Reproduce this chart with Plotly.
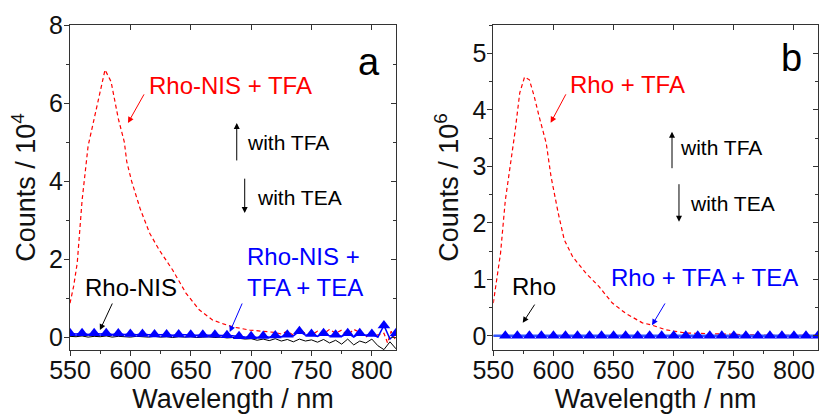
import plotly.graph_objects as go

# ---------------- data ----------------
# Panel a (Rho-NIS), counts / 10^4
a_red_wl = [550, 553, 556, 560, 565, 572, 579, 584, 590, 595, 597, 601, 608, 616, 624, 635, 646,
            657, 668, 677, 685, 699, 713, 720, 725, 730, 735, 740, 745, 750, 755, 760, 765, 770,
            775, 780, 785, 790, 795, 800, 805, 810, 813, 816, 820]
a_red = [0.87, 1.3, 1.9, 3.5, 4.9, 5.9, 6.85, 6.55, 5.6, 5.0, 4.5, 4.0, 3.3, 2.66, 2.23, 1.72, 1.13,
         0.7, 0.44, 0.34, 0.26, 0.18, 0.13, 0.12, 0.08, 0.15, 0.05, 0.18, 0.1, 0.06, 0.15, 0.08, 0.2,
         0.1, 0.18, 0.05, 0.2, 0.12, 0.0, 0.15, 0.05, 0.1, -0.15, 0.15, -0.1]

a_wl = list(range(550, 821, 5))
a_black = [0.02, 0.01, 0.03, 0.0, 0.02, 0.01, 0.03, 0.0, 0.02, 0.01, 0.0, 0.02, 0.01, 0.0, 0.02,
           0.0, 0.01, -0.01, 0.01, 0.0, 0.01, -0.01, 0.0, 0.01, -0.01, 0.0, -0.02, -0.01, -0.03,
           -0.05, -0.04, -0.08, -0.05, -0.09, -0.04, -0.1, -0.06, -0.12, -0.05, -0.1, -0.07, -0.13,
           -0.06, -0.15, -0.08, -0.18, -0.05, -0.2, -0.1, -0.15, -0.05, -0.22, -0.32, -0.12, -0.3]
a_blue = [0.1, 0.08, 0.1, 0.07, 0.1, 0.08, 0.1, 0.07, 0.09, 0.07, 0.08, 0.06, 0.08, 0.06, 0.07,
          0.06, 0.07, 0.05, 0.07, 0.06, 0.06, 0.05, 0.06, 0.05, 0.06, 0.04, 0.05, 0.03, 0.02, 0.0,
          0.02, -0.01, 0.03, 0.0, 0.04, 0.01, 0.06, 0.03, 0.15, 0.05, 0.08, 0.02, 0.1, 0.03, 0.06,
          0.02, 0.1, 0.0, 0.1, 0.05, 0.08, 0.0, 0.3, -0.05, 0.1]

# Panel b (Rho), counts / 10^6
b_red_wl = [550, 553, 556, 560, 564, 568, 572, 576, 580, 584, 588, 594, 598, 604, 609, 616, 627,
            638, 649, 660, 674, 682, 693, 710, 729, 756, 780, 820]
b_red = [0.58, 1.05, 1.46, 2.4, 3.0, 3.6, 4.3, 4.58, 4.53, 4.24, 3.89, 3.41, 2.82, 2.17, 1.7, 1.4,
         1.11, 0.87, 0.58, 0.4, 0.23, 0.19, 0.11, 0.05, 0.04, 0.02, 0.01, 0.01]
b_wl = list(range(550, 821, 5))
b_black = [0.0] * len(b_wl)
b_blue = [0.0] * len(b_wl)

x_ticks = [550, 600, 650, 700, 750, 800]
a_y_ticks = [0, 2, 4, 6, 8]
b_y_ticks = [0, 1, 2, 3, 4, 5]

RED = "#ff0000"
BLUE = "#0000ff"
FONT = "Liberation Sans, Arial, sans-serif"
AXC = "#333333"

fig = go.Figure()

# panel a traces
fig.add_trace(go.Scatter(x=a_wl, y=a_black, mode="lines", line=dict(color="black", width=1),
                         xaxis="x", yaxis="y", showlegend=False))
fig.add_trace(go.Scatter(x=a_red_wl, y=a_red, mode="lines",
                         line=dict(color=RED, width=1.2, dash="4px,3px"),
                         xaxis="x", yaxis="y", showlegend=False))
fig.add_trace(go.Scatter(x=a_wl, y=a_blue, mode="lines", line=dict(color=BLUE, width=1.5),
                         xaxis="x", yaxis="y", showlegend=False))
fig.add_trace(go.Scatter(x=a_wl[::2], y=a_blue[::2], mode="markers",
                         marker=dict(symbol="triangle-up", color=BLUE, size=11, line=dict(width=0)),
                         xaxis="x", yaxis="y", showlegend=False))
# panel b traces
fig.add_trace(go.Scatter(x=b_wl, y=b_black, mode="lines", line=dict(color="black", width=1),
                         xaxis="x2", yaxis="y2", showlegend=False))
fig.add_trace(go.Scatter(x=b_red_wl, y=b_red, mode="lines",
                         line=dict(color=RED, width=1.2, dash="4px,3px"),
                         xaxis="x2", yaxis="y2", showlegend=False))
fig.add_trace(go.Scatter(x=b_wl, y=b_blue, mode="lines", line=dict(color="#3355ff", width=2.5),
                         xaxis="x2", yaxis="y2", showlegend=False))
fig.add_trace(go.Scatter(x=b_wl[2::2], y=b_blue[2::2], mode="markers",
                         marker=dict(symbol="triangle-up", color=BLUE, size=11, line=dict(width=0)),
                         xaxis="x2", yaxis="y2", showlegend=False))
# empty traces so that the tick-only overlay axes (top / right) get drawn
for xa, ya in (("x3", "y3"), ("x4", "y4")):
    fig.add_trace(go.Scatter(x=[None], y=[None], mode="lines", xaxis=xa, yaxis=ya,
                             showlegend=False, hoverinfo="skip"))

W, H = 820, 414
ydom = [(H - 350) / H, (H - 25) / H]
xdom_a = [70 / W, 396 / W]
xdom_b = [493.3 / W, 818 / W]
xr = [550, 820]
yr_a = [-0.33, 8.0]
yr_b = [-0.25, 5.5]

tickfont = dict(family=FONT, size=25, color="#111111")
titlefont = dict(family=FONT, size=27, color="#111111")

def xaxis_main(dom, anchor):
    return dict(domain=dom, range=xr, anchor=anchor, tickvals=x_ticks, ticks="outside",
                ticklen=5, tickwidth=1, tickcolor=AXC, showline=True, linecolor=AXC, linewidth=1,
                mirror=True, showgrid=False, zeroline=False, tickfont=tickfont,
                ticklabelstandoff=-7,
                minor=dict(dtick=25, tick0=550, ticks="outside", ticklen=3, tickcolor=AXC),
                title=dict(text="Wavelength / nm", font=titlefont, standoff=0),
                automargin=False)

def yaxis_main(dom, anchor, rng, tv, mdt, title):
    return dict(domain=dom, range=rng, anchor=anchor, tickvals=tv, ticks="outside",
                ticklen=5, tickwidth=1, tickcolor=AXC, showline=True, linecolor=AXC, linewidth=1,
                mirror=True, showgrid=False, zeroline=False, tickfont=tickfont,
                ticklabelstandoff=-4,
                minor=dict(dtick=mdt, tick0=0, ticks="outside", ticklen=3, tickcolor=AXC),
                title=dict(text=title, font=titlefont, standoff=5), automargin=False)

def y_ticks_axis(over, anchor, rng, tv, mdt):
    return dict(overlaying=over, side="right", anchor=anchor, range=rng, tickvals=tv,
                ticks="inside", ticklen=5, tickcolor=AXC, showticklabels=False,
                showgrid=False, zeroline=False, showline=False,
                minor=dict(dtick=mdt, tick0=0, ticks="inside", ticklen=3, tickcolor=AXC))

def x_ticks_axis(over, anchor):
    return dict(overlaying=over, side="top", anchor=anchor, range=xr, tickvals=x_ticks,
                ticks="inside", ticklen=5, tickcolor=AXC, showticklabels=False,
                showgrid=False, zeroline=False, showline=False)

fig.update_layout(
    width=W, height=H, margin=dict(l=0, r=0, t=0, b=0),
    paper_bgcolor="white", plot_bgcolor="white",
    xaxis=xaxis_main(xdom_a, "y"),
    yaxis=yaxis_main(ydom, "x", yr_a, a_y_ticks, 1, "Counts / 10<sup>4</sup>"),
    xaxis2=xaxis_main(xdom_b, "y2"),
    yaxis2=yaxis_main(ydom, "x2", yr_b, b_y_ticks, 0.5, "Counts / 10<sup>6</sup>"),
    # inside ticks on top / right edges
    xaxis3=x_ticks_axis("x", "y"),
    yaxis3=y_ticks_axis("y", "x", yr_a, a_y_ticks, 1),
    xaxis4=x_ticks_axis("x2", "y2"),
    yaxis4=y_ticks_axis("y2", "x2", yr_b, b_y_ticks, 0.5),
)

ann = []
def text(xr_, yr_, x, y, t, color, size, xanchor="left", align="left"):
    ann.append(dict(xref=xr_, yref=yr_, x=x, y=y, text=t, showarrow=False, xanchor=xanchor,
                    yanchor="middle", align=align, font=dict(family=FONT, size=size, color=color)))

def arrow(xr_, yr_, x0, y0, x1, y1, color):
    ann.append(dict(xref=xr_, yref=yr_, axref=xr_, ayref=yr_, ax=x0, ay=y0, x=x1, y=y1, text="",
                    showarrow=True, arrowhead=2, arrowsize=1.2, arrowwidth=1, arrowcolor=color))

# panel a annotations
text("x", "y", 613.7, 6.46, "Rho-NIS + TFA", RED, 24)
arrow("x", "y", 612, 6.26, 598, 5.49, RED)
text("x", "y", 694.7, 5.0, "with TFA", "black", 21)
arrow("x", "y", 688.1, 4.49, 688.1, 5.49, "black")
text("x", "y", 703, 3.59, "with TEA", "black", 21)
arrow("x", "y", 694.7, 4.10, 694.7, 3.18, "black")
text("x", "y", 560.8, 1.28, "Rho-NIS", "black", 24)
arrow("x", "y", 585.6, 0.90, 574.8, 0.18, "black")
text("x", "y", 694.7, 1.67, "Rho-NIS +<br>TFA + TEA", BLUE, 24)
arrow("x", "y", 693.1, 0.90, 682.3, 0.13, BLUE)
text("x", "y", 798, 7.05, "a", "black", 38, xanchor="center")

# panel b annotations
text("x2", "y2", 611.8, 4.44, "Rho + TFA", RED, 24)
arrow("x2", "y2", 611, 4.30, 597.7, 3.77, RED)
text("x2", "y2", 703.5, 3.33, "with TFA", "black", 21)
arrow("x2", "y2", 698.6, 2.94, 698.6, 3.61, "black")
text("x2", "y2", 711.7, 2.35, "with TEA", "black", 21)
arrow("x2", "y2", 704.4, 2.71, 704.4, 2.02, "black")
text("x2", "y2", 563.8, 0.87, "Rho", "black", 24)
arrow("x2", "y2", 585.2, 0.58, 574.5, 0.23, "black")
text("x2", "y2", 646.5, 1.03, "Rho + TFA + TEA", BLUE, 24)
arrow("x2", "y2", 693.5, 0.60, 682, 0.19, BLUE)
text("x2", "y2", 797.6, 4.92, "b", "black", 38, xanchor="center")

fig.update_layout(annotations=ann)
fig.write_html("out.html")
